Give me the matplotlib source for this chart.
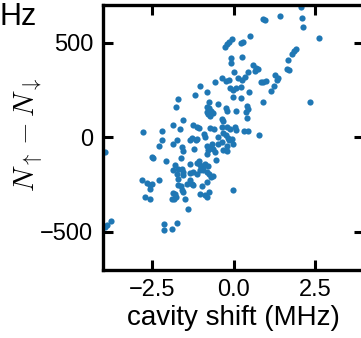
import matplotlib
matplotlib.use("Agg")
import matplotlib.pyplot as plt
import numpy as np

plt.rcParams['font.family'] = ['Liberation Sans', 'DejaVu Sans']
plt.rcParams['mathtext.fontset'] = 'cm'

# cavity shift (MHz)
shift = [
    2.05, 0.88, 0.96, 1.41, 2.08, 2.13, 2.61, 0.49, 0.29, 0.21,
    -0.07, -0.14, -0.21, -0.28, 1.89, 1.84, 1.79, -0.10, 0.24, -0.10,
    1.67, 0.59, 0.67, 0.75, 0.64, 1.62, 1.70, 0.01, 0.44, 1.26,
    1.34, 1.31, -0.38, -0.25, -0.58, 0.13, 0.24, 0.34, -0.14, 0.83,
    0.90, 0.97, -1.04, 1.24, -0.12, -0.02, 0.08, 0.21, 1.13, -1.19,
    -0.84, 0.47, -0.02, 0.21, 0.88, 2.35, -1.70, -0.76, -0.48, -1.79,
    -0.84, -0.76, -0.82, -0.71, -0.63, -0.74, -0.79, -0.25, -0.21, 0.05,
    0.39, 0.44, 0.36, -1.56, -0.38, -0.33, 0.39, -1.88, -1.25, -1.14,
    -1.07, -0.74, -0.61, -0.38, -0.22, -0.12, 0.03, 0.08, 0.32, 0.44,
    -2.22, -2.78, -1.66, -0.91, -0.89, -1.30, -1.13, -0.33, -0.25, -0.17,
    0.77, -0.48, -1.74, -1.88, -2.22, -2.30, -1.35, -1.17, -1.60, -1.56,
    -1.22, -0.82, -0.74, -0.79, -0.65, -0.58, -0.84, -0.68, -0.50, -0.38,
    -0.22, -0.14, -0.02, -0.33, -0.22, -0.07, -3.94, -2.52, -2.48, -2.09,
    -1.63, -1.35, -1.14, -1.06, -1.04, -0.89, -0.79, -0.55, -1.81, -1.71,
    -1.86, -1.60, -1.56, -1.74, -1.57, -1.35, -1.25, -1.14, -0.94, -1.04,
    -1.71, -2.83, -2.68, -2.58, -2.52, -2.30, -1.71, -1.63, -1.35, -1.30,
    -1.45, -1.25, -0.99, -0.84, -0.76, -0.71, -0.63, -1.60, -1.57, -2.58,
    -0.02, -1.04, -0.89, -0.84, -0.77, -2.73, -2.58, -1.91, -1.84, -1.78,
    -1.81, -1.86, -1.50, -1.42, -2.15, -1.74, -2.15, -1.91, -3.78, -3.90,
    -3.96, -0.95, -0.83,
]
# N_up - N_down for each point
imbalance = [
    688, 626, 618, 640, 632, 583, 526, 532, 505, 497,
    518, 505, 492, 474, 468, 456, 442, 421, 425, 392,
    407, 383, 368, 360, 351, 360, 355, 342, 346, 330,
    311, 304, 311, 298, 293, 311, 304, 319, 304, 289,
    293, 298, 272, 272, 260, 249, 260, 267, 246, 223,
    237, 241, 211, 207, 188, 188, 202, 184, 176, 158,
    162, 153, 135, 141, 126, 114, 123, 155, 141, 137,
    167, 149, 132, 93, 97, 84, 102, 65, 67, 53,
    47, 49, 42, 53, 56, 42, 56, 39, 32, 35,
    35, 26, 44, 18, 0, -3, -8, 21, 9, -3,
    9, 0, -14, -35, -17, -49, -17, -14, -53, -74,
    -61, -44, -56, -70, -61, -79, -87, -35, -35, -26,
    -44, -17, -35, -70, -74, -8, -79, -105, -111, -126,
    -112, -144, -137, -126, -149, -140, -154, -119, -149, -166,
    -175, -166, -184, -193, -202, -189, -184, -193, -158, -172,
    -219, -224, -242, -254, -245, -228, -254, -259, -228, -245,
    -245, -251, -259, -237, -193, -211, -207, -281, -289, -272,
    -281, -298, -307, -316, -289, -316, -324, -328, -329, -316,
    -302, -295, -324, -382, -456, -453, -491, -486, -444, -465,
    -477, -175, -186,
]

xticks = [-2.5, 0.0, 2.5]
yticks = [-500, 0, 500]

fig = plt.figure(figsize=(3.61, 3.38), dpi=100)
ax = fig.add_axes([0.2867, 0.2021, 0.7224, 0.784])

ax.scatter(shift, imbalance, s=20, color='#1f77b4', linewidths=0)

ax.set_xlim(-4, 4)
ax.set_ylim(-700, 700)
ax.set_xticks(xticks)
ax.set_yticks(yticks)

for sp in ax.spines.values():
    sp.set_linewidth(2.4)
ax.tick_params(direction='in', top=True, right=True, length=7.2, width=2.2,
               labelsize=17)
ax.tick_params(axis='x', pad=6.8)
ax.tick_params(axis='y', pad=7.5)

ax.set_xlabel('cavity shift (MHz)', fontsize=20, labelpad=3.0)
ax.set_ylabel(r'$N_\uparrow - N_\downarrow$', fontsize=21)
ax.yaxis.set_label_coords(-0.286, 0.51)
ax.yaxis.label.set_va('center')

# label of the neighbouring panel, cut by the figure edge
fig.text(0.0, 0.926, 'Hz', fontsize=22, ha='left', va='baseline')

fig.savefig('out.png', dpi=100)
